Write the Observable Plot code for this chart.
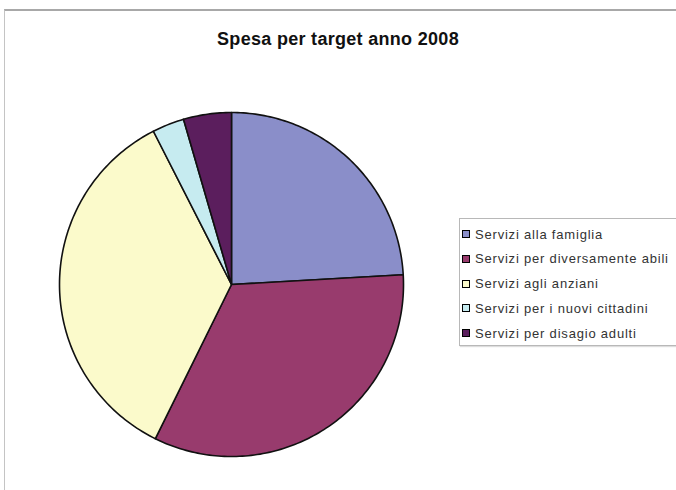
<!DOCTYPE html>
<html>
<head>
<meta charset="utf-8">
<script src="https://cdn.jsdelivr.net/npm/d3@7"></script>
<script src="https://cdn.jsdelivr.net/npm/@observablehq/plot@0.6"></script>
<style>
  html, body { margin: 0; padding: 0; background: #fff; }
  #wrap { position: relative; width: 676px; height: 490px; overflow: hidden; font-family: "Liberation Sans", Arial, sans-serif; }
  #frame { position: absolute; left: 4px; top: 9px; width: 700px; height: 500px; border-top: 2px solid #a8a8a8; border-left: 1px solid #c4c4c4; }
  #title { position: absolute; left: 0; width: 676px; top: 29px; text-align: center; font-weight: bold; font-size: 18px; letter-spacing: 0.3px; color: #111; }
  #plot { position: absolute; left: 0; top: 0; }
  #legend { position: absolute; left: 459px; top: 218px; width: 240px; height: 128px; border: 1px solid #b8b8b8; border-right: none; box-sizing: border-box; box-shadow: 1px 1px 1px #ddd; }
  .row { position: absolute; left: 2px; height: 16px; display: flex; align-items: center; font-size: 13px; letter-spacing: 0.8px; color: #333; white-space: nowrap; }
  .sw { width: 6px; height: 6px; border: 1px solid #000; margin-right: 5px; flex: none; }
</style>
</head>
<body>
<div id="wrap">
  <div id="frame"></div>
  <div id="plot"></div>
  <div id="title"></div>
  <div id="legend"></div>
</div>
<script>
const title = "Spesa per target anno 2008";
const categories = [
  "Servizi alla famiglia",
  "Servizi per diversamente abili",
  "Servizi agli anziani",
  "Servizi per i nuovi cittadini",
  "Servizi per disagio adulti"
];
const values = [24.1, 33.2, 35.2, 3.0, 4.5];
const colors = ["#8a8ec9", "#983b6d", "#fbfacb", "#c6ebf0", "#5b1e5d"];

document.getElementById("title").textContent = title;

// Build slice outlines (angles clockwise from 12 o'clock) from the values
const total = d3.sum(values);
const pts = [];
let acc = 0;
categories.forEach((cat, i) => {
  const a0 = acc / total * 2 * Math.PI;
  acc += values[i];
  const a1 = acc / total * 2 * Math.PI;
  pts.push({cat, x: 0, y: 0});
  const n = Math.max(2, Math.ceil((a1 - a0) / (Math.PI / 180)));
  for (let k = 0; k <= n; k++) {
    const a = a0 + (a1 - a0) * k / n;
    pts.push({cat, x: Math.sin(a), y: Math.cos(a)});
  }
});

const chart = Plot.plot({
  width: 676,
  height: 490,
  margin: 0,
  x: {domain: [-1, 1], range: [59, 403], axis: null},
  y: {domain: [-1, 1], range: [456, 112], axis: null},
  color: {domain: categories, range: colors},
  marks: [
    Plot.line(pts, {x: "x", y: "y", z: "cat", fill: "cat", stroke: "#111", strokeWidth: 1.6, curve: "linear-closed", strokeLinejoin: "round"})
  ]
});
document.getElementById("plot").appendChild(chart);

// Legend
const legend = document.getElementById("legend");
categories.forEach((cat, i) => {
  const row = document.createElement("div");
  row.className = "row";
  row.style.top = (7 + i * 24.8) + "px";
  const sw = document.createElement("div");
  sw.className = "sw";
  sw.style.background = colors[i];
  const tx = document.createElement("span");
  tx.textContent = cat;
  row.appendChild(sw);
  row.appendChild(tx);
  legend.appendChild(row);
});
</script>
</body>
</html>
